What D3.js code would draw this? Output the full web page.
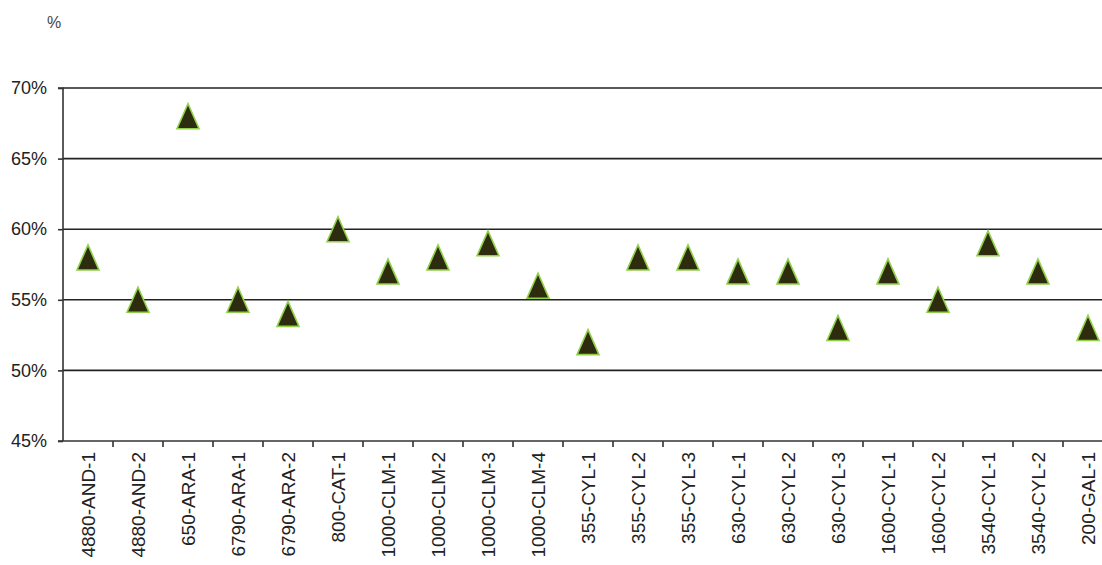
<!DOCTYPE html>
<html><head><meta charset="utf-8">
<script src="https://cdn.jsdelivr.net/npm/d3@7"></script>
<style>html,body{margin:0;padding:0;background:#fff;overflow:hidden}</style>
</head><body>
<svg id="c" width="1102" height="565"></svg>
<script>
const categories = ["4880-AND-1","4880-AND-2","650-ARA-1","6790-ARA-1","6790-ARA-2","800-CAT-1","1000-CLM-1","1000-CLM-2","1000-CLM-3","1000-CLM-4","355-CYL-1","355-CYL-2","355-CYL-3","630-CYL-1","630-CYL-2","630-CYL-3","1600-CYL-1","1600-CYL-2","3540-CYL-1","3540-CYL-2","200-GAL-1"];
const values = [58,55,68,55,54,60,57,58,59,56,52,58,58,57,57,53,57,55,59,57,53];
const yTicks = [45,50,55,60,65,70];

(function () {
const svg = d3.select("#c");
const pLeft = 63, pTop = 88, pBottom = 441, bandW = 50;
const pRight = pLeft + bandW * categories.length;
const font = "Liberation Sans, Arial, sans-serif";

const x = d3.scaleBand().domain(categories).range([pLeft, pRight]).paddingInner(0).paddingOuter(0);
const y = d3.scaleLinear().domain([45, 70]).range([pBottom, pTop]);

// gridlines
svg.append("g").selectAll("line").data(yTicks.filter(t => t > 45)).join("line")
  .attr("x1", pLeft).attr("x2", pRight)
  .attr("y1", d => y(d)).attr("y2", d => y(d))
  .attr("stroke", "#222").attr("stroke-width", 1.6);

// y axis
const ya = svg.append("g").attr("transform", `translate(${pLeft},0)`)
  .call(d3.axisLeft(y).tickValues(yTicks).tickFormat(d => d + "%").tickSize(5).tickPadding(11));
ya.select(".domain").attr("stroke", "#333").attr("stroke-width", 1.6).attr("d", `M-5,${pTop}H0V${pBottom}`);
ya.selectAll(".tick line").attr("stroke", "#333").attr("stroke-width", 1.6);
ya.selectAll(".tick text").attr("font-family", font).attr("font-size", 18).attr("fill", "#222");

// x axis
const xa = svg.append("g").attr("transform", `translate(0,${pBottom})`)
  .call(d3.axisBottom(x).tickSize(0).tickPadding(0));
xa.select(".domain").attr("stroke", "#333").attr("stroke-width", 1.6).attr("d", `M${pLeft - 5},0H${pRight}`);
xa.selectAll(".tick text")
  .attr("font-family", font).attr("font-size", 19).attr("fill", "#222")
  .attr("text-anchor", "end").attr("dy", "0.35em").attr("y", 0)
  .attr("transform", "translate(0,11) rotate(-90)");
// tick marks at band boundaries
svg.append("g").selectAll("line").data(categories.slice(1)).join("line")
  .attr("x1", d => x(d)).attr("x2", d => x(d))
  .attr("y1", pBottom).attr("y2", pBottom + 6)
  .attr("stroke", "#333").attr("stroke-width", 1.6);

// markers: isosceles triangle, 22 wide x 25 tall, centred on the point
const triType = { draw(ctx, size) { const w = 11, h = 12.5; ctx.moveTo(0, -h); ctx.lineTo(w, h); ctx.lineTo(-w, h); ctx.closePath(); } };
const tri = d3.symbol().type(triType);
svg.append("g").selectAll("path").data(values).join("path")
  .attr("d", tri)
  .attr("transform", (d, i) => `translate(${x(categories[i]) + x.bandwidth() / 2},${y(d)})`)
  .attr("fill", "#2e2c0e").attr("stroke", "#8fd048").attr("stroke-width", 1.6).attr("stroke-linejoin", "miter");

// unit label
svg.append("text").attr("x", 47).attr("y", 28).text("%")
  .attr("font-family", font).attr("font-size", 16).attr("fill", "#444");
})();
</script>
</body></html>
